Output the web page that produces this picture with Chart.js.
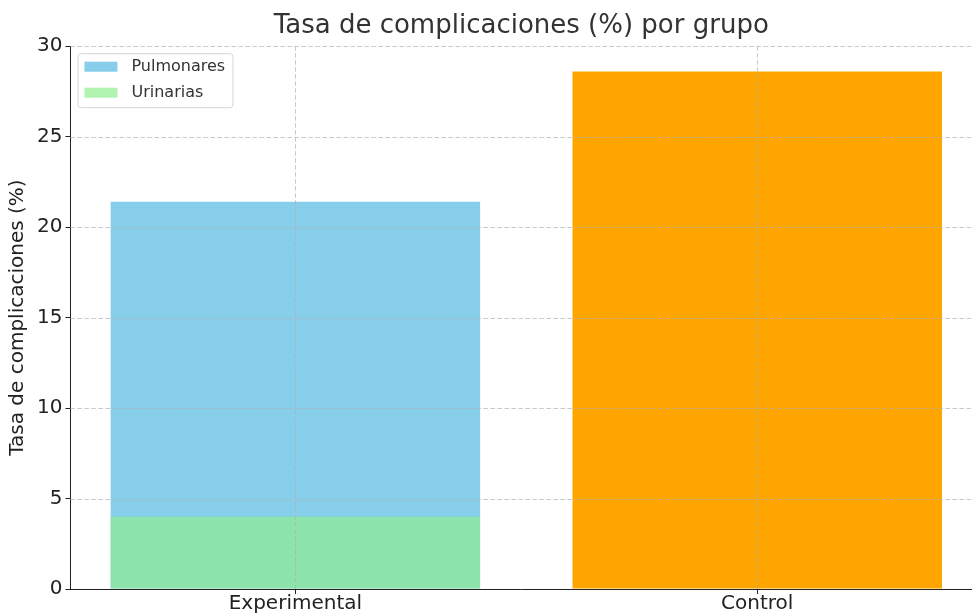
<!DOCTYPE html>
<html>
<head>
<title>Tasa de complicaciones</title>
<script src="https://cdn.jsdelivr.net/npm/chart.js"></script>
<style>
    body { margin: 0; background: #fff; }
    #chartContainer {
        width: 972px;
        height: 614px;
    }
</style>
</head>
<body>
<div id="chartContainer">
    <canvas id="myChart"></canvas>
</div>

<script>
var categories = ['Experimental', 'Control'];
var pulmonares = [21.4, null];
var urinarias = [4.0, null];
var control = [null, 28.6];
var yTicks = [0, 5, 10, 15, 20, 25, 30];

function toPoints(values) {
    var pts = [];
    values.forEach(function (v, i) {
        if (v !== null) pts.push({ x: i, y: v });
    });
    return pts;
}

// matplotlib draws its grid above the bars, so redraw it after the datasets,
// and the legend is a framed box in the top-left corner of the axes
var gridAndLegend = {
    id: 'gridAndLegend',
    afterDatasetsDraw: function (chart) {
        var ctx = chart.ctx;
        var area = chart.chartArea;
        var xs = chart.scales.x;
        var ys = chart.scales.y;
        ctx.save();
        ctx.strokeStyle = 'rgba(176,176,176,0.7)';
        ctx.lineWidth = 1;
        ctx.setLineDash([4.5, 2.5]);
        yTicks.forEach(function (t) {
            if (t === 0) return;
            var y = Math.round(ys.getPixelForValue(t)) + 0.5;
            ctx.beginPath();
            ctx.moveTo(area.left, y);
            ctx.lineTo(area.right, y);
            ctx.stroke();
        });
        categories.forEach(function (c, i) {
            var x = Math.round(xs.getPixelForValue(i)) + 0.5;
            ctx.beginPath();
            ctx.moveTo(x, area.top);
            ctx.lineTo(x, area.bottom);
            ctx.stroke();
        });
        ctx.restore();
    },
    afterDraw: function (chart) {
        var ctx = chart.ctx;
        var area = chart.chartArea;
        var items = chart.data.datasets.filter(function (d) { return d.label; });
        var left = area.left + 7.5;
        var top = area.top + 7.5;
        ctx.save();
        ctx.fillStyle = 'rgba(255,255,255,0.8)';
        ctx.strokeStyle = '#d6d6d6';
        ctx.lineWidth = 1;
        ctx.beginPath();
        ctx.roundRect(left, top, 155, 54, 3);
        ctx.fill();
        ctx.stroke();
        ctx.font = '16px "DejaVu Sans"';
        ctx.textBaseline = 'middle';
        items.forEach(function (d, i) {
            var cy = top + 13 + i * 26;
            ctx.fillStyle = d.backgroundColor;
            ctx.fillRect(left + 6.5, cy - 5, 33, 10);
            ctx.fillStyle = '#333333';
            ctx.fillText(d.label, left + 53.5, cy);
        });
        ctx.restore();
    }
};

var ctx = document.getElementById('myChart').getContext('2d');

var chart = new Chart(ctx, {
    type: 'bar',
    data: {
        datasets: [{
            label: 'Pulmonares',
            data: toPoints(pulmonares),
            backgroundColor: '#87CEEB',
            order: 2
        }, {
            label: 'Urinarias',
            data: toPoints(urinarias),
            backgroundColor: 'rgba(144,238,144,0.7)',
            order: 1
        }, {
            label: '',
            data: toPoints(control),
            backgroundColor: '#FFA500',
            order: 3
        }]
    },
    plugins: [gridAndLegend],
    options: {
        responsive: true,
        maintainAspectRatio: false,
        animation: false,
        grouped: false,
        categoryPercentage: 0.8,
        barPercentage: 1.0,
        layout: {
            padding: { left: 6, right: 0, top: 11, bottom: 0 }
        },
        plugins: {
            title: {
                display: true,
                text: 'Tasa de complicaciones (%) por grupo',
                fullSize: false,
                color: '#333333',
                font: { family: 'DejaVu Sans', size: 26, weight: 'normal', lineHeight: 1.2 },
                padding: { top: 0, bottom: 4 }
            },
            legend: { display: false },
            tooltip: { enabled: false }
        },
        scales: {
            x: {
                type: 'linear',
                offset: false,
                min: -0.487,
                max: 1.465,
                afterBuildTicks: function (scale) {
                    scale.ticks = categories.map(function (c, i) { return { value: i }; });
                },
                ticks: {
                    color: '#222222',
                    font: { family: 'DejaVu Sans', size: 20, lineHeight: 1.0 },
                    padding: 0,
                    maxRotation: 0,
                    autoSkip: false,
                    callback: function (v) { return categories[v]; }
                },
                grid: {
                    offset: false,
                    drawOnChartArea: false,
                    color: '#222222',
                    tickLength: 5
                },
                border: { display: true, color: '#222222', width: 1 }
            },
            y: {
                min: 0,
                max: 30,
                afterBuildTicks: function (scale) {
                    scale.ticks = yTicks.map(function (v) { return { value: v }; });
                },
                ticks: {
                    color: '#222222',
                    font: { family: 'DejaVu Sans', size: 20 },
                    padding: 3
                },
                grid: {
                    drawOnChartArea: false,
                    color: '#222222',
                    tickLength: 5
                },
                border: { display: true, color: '#222222', width: 1 },
                title: {
                    display: true,
                    text: 'Tasa de complicaciones (%)',
                    color: '#222222',
                    font: { family: 'DejaVu Sans', size: 20, lineHeight: 1.2 },
                    padding: { top: 0, bottom: 4 }
                }
            }
        }
    }
});
</script>
</body>
</html>
